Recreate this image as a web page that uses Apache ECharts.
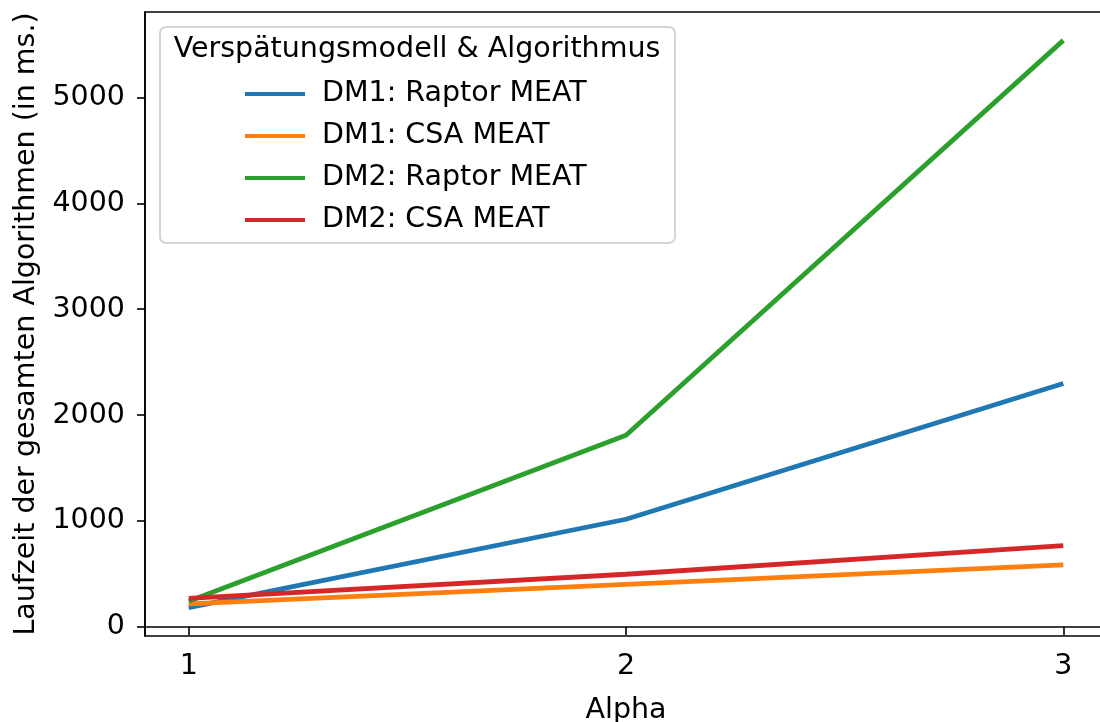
<!DOCTYPE html>
<html>
<head>
<meta charset="utf-8">
<script src="https://cdn.jsdelivr.net/npm/echarts@6/dist/echarts.min.js"></script>
<style>
  html, body { margin: 0; padding: 0; background: #fff; }
  #chart { width: 1100px; height: 722px; }
</style>
</head>
<body>
<div id="chart"></div>
<script>
// Alpha values on the x axis
const alphas = [1, 2, 3];
// Total runtime in ms per delay model and algorithm
const dm1Raptor = [183, 1017, 2299];
const dm1Csa = [219, 403, 586];
const dm2Raptor = [243, 1810, 5538];
const dm2Csa = [271, 498, 769];
const seriesNames = ['DM1: Raptor MEAT', 'DM1: CSA MEAT', 'DM2: Raptor MEAT', 'DM2: CSA MEAT'];
const seriesValues = [dm1Raptor, dm1Csa, dm2Raptor, dm2Csa];
const colors = ['#1f77b4', '#ff7f0e', '#2ca02c', '#d62728'];
const yTicks = [0, 1000, 2000, 3000, 4000, 5000];
const legendTitle = 'Verspätungsmodell & Algorithmus';

const FONT = 'DejaVu Sans';
const FS = 28.5;
const chart = echarts.init(document.getElementById('chart'), null, { renderer: 'canvas' });

const series = seriesNames.map((name, i) => ({
  name,
  type: 'line',
  data: alphas.map((a, j) => [a, seriesValues[i][j]]),
  showSymbol: false,
  symbol: 'none',
  lineStyle: { color: colors[i], width: 4.8 },
  itemStyle: { color: colors[i] },
  emphasis: { disabled: true },
  animation: false
}));

chart.setOption({
  animation: false,
  backgroundColor: '#fff',
  textStyle: { fontFamily: FONT },
  grid: {
    left: 145, top: 12, width: 962, height: 624,
    outerBoundsMode: 'none',
    containLabel: false,
    show: true, borderColor: '#000', borderWidth: 1.6, backgroundColor: 'transparent'
  },
  xAxis: {
    type: 'value',
    min: 0.9, max: 3.1,
    name: 'Alpha',
    nameLocation: 'middle',
    nameGap: 60,
    nameTextStyle: { fontSize: FS, color: '#000', fontFamily: FONT },
    axisLine: { show: true, lineStyle: { color: '#000', width: 1.6 } },
    axisTick: { show: true, customValues: alphas, length: 8, lineStyle: { color: '#000', width: 1.6 } },
    axisLabel: { customValues: alphas, fontSize: FS, color: '#000', margin: 16, fontFamily: FONT,
      formatter: v => String(v) },
    splitLine: { show: false }
  },
  yAxis: {
    type: 'value',
    min: -85, max: 5806,
    name: 'Laufzeit der gesamten Algorithmen (in ms.)',
    nameLocation: 'middle',
    nameGap: 102,
    nameRotate: 90,
    nameTextStyle: { fontSize: FS, color: '#000', fontFamily: FONT },
    axisLine: { show: true, lineStyle: { color: '#000', width: 1.6 } },
    axisTick: { show: true, customValues: yTicks, length: 8, lineStyle: { color: '#000', width: 1.6 } },
    axisLabel: { customValues: yTicks, fontSize: FS, color: '#000', margin: 20, fontFamily: FONT,
      formatter: v => String(v) },
    splitLine: { show: false }
  },
  legend: {
    orient: 'vertical',
    left: 240,
    top: 74,
    data: seriesNames,
    icon: 'rect',
    itemWidth: 60,
    itemHeight: 4,
    itemGap: 12,
    selectedMode: false,
    textStyle: { fontSize: FS, color: '#000', fontFamily: FONT, lineHeight: 30, padding: [0, 0, 0, 12] },
    z: 20
  },
  graphic: [
    {
      type: 'rect',
      shape: { x: 160, y: 27, width: 515, height: 216, r: 6 },
      style: { fill: 'rgba(255,255,255,0.8)', stroke: '#d4d4d4', lineWidth: 2 },
      z: 10
    },
    {
      type: 'text',
      x: 417, y: 50,
      style: {
        text: legendTitle, fontSize: FS, fontFamily: FONT, fill: '#000',
        align: 'center', verticalAlign: 'middle'
      },
      z: 11
    }
  ],
  series
});
</script>
</body>
</html>
